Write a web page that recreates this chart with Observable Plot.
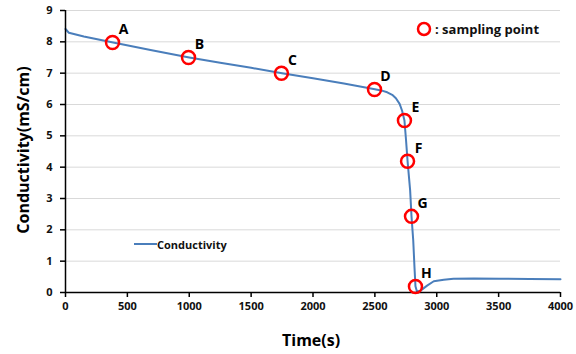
<!DOCTYPE html>
<html>
<head>
<meta charset="utf-8">
<script src="https://cdn.jsdelivr.net/npm/d3@7"></script>
<script src="https://cdn.jsdelivr.net/npm/@observablehq/plot@0.6"></script>
<style>
  html, body { margin: 0; padding: 0; background: #fff; }
  #wrap { position: relative; width: 576px; height: 354px; font-family: "Open Sans", "Liberation Sans", sans-serif; }
  .lg { position: absolute; font-weight: bold; color: #111; white-space: nowrap; }
  .ylab { position: absolute; font-weight: bold; font-size: 16px; color: #000; white-space: nowrap; transform: rotate(-90deg); transform-origin: center; }
</style>
</head>
<body>
<div id="wrap"></div>
<script>
const time = [0, 27, 148, 385, 687, 1000, 1250, 1500, 1750, 2000, 2250, 2500, 2550, 2600, 2640, 2670, 2700, 2720, 2739, 2752, 2764, 2785, 2796, 2810, 2820, 2828, 2840, 2869, 2922, 2976, 3057, 3135, 3300, 3515, 3750, 4000];
const conductivity = [8.41, 8.29, 8.17, 7.98, 7.74, 7.5, 7.33, 7.17, 7.0, 6.84, 6.67, 6.49, 6.45, 6.39, 6.31, 6.2, 6.02, 5.8, 5.49, 4.85, 4.2, 3.26, 2.43, 1.66, 0.81, 0.2, 0.03, 0.06, 0.22, 0.36, 0.41, 0.44, 0.45, 0.44, 0.43, 0.42];

const sampleLabels = ["A", "B", "C", "D", "E", "F", "G", "H"];
const sampleTime = [380, 994, 1745, 2497, 2739, 2764, 2796, 2828];
const sampleValue = [7.98, 7.5, 7.0, 6.48, 5.49, 4.19, 2.43, 0.19];

const xTicks = [0, 500, 1000, 1500, 2000, 2500, 3000, 3500, 4000];
const yTicks = [0, 1, 2, 3, 4, 5, 6, 7, 8, 9];

const series = time.map((t, i) => ({t, v: conductivity[i]}));
const samples = sampleLabels.map((l, i) => ({l, t: sampleTime[i], v: sampleValue[i]}));

const chart = Plot.plot({
  width: 576,
  height: 354,
  marginLeft: 65,
  marginRight: 16,
  marginTop: 10,
  marginBottom: 62,
  style: {fontFamily: '"Open Sans", "Liberation Sans", sans-serif', fontSize: "11px", fontWeight: "bold", color: "#111", background: "#fff"},
  x: {domain: [0, 4000], label: null},
  y: {domain: [0, 9], label: null},
  marks: [
    Plot.gridY(yTicks, {stroke: "#d9d9d9", strokeOpacity: 1, strokeWidth: 1}),
    Plot.axisX({ticks: xTicks, tickFormat: d => String(d), tickSize: 5, tickPadding: 5, label: null, stroke: "#000", strokeWidth: 1.5}),
    Plot.axisY({ticks: yTicks, tickFormat: d => String(d), tickSize: 5, tickPadding: 8, label: null, stroke: "#000", strokeWidth: 1.5}),
    Plot.line(series, {x: "t", y: "v", stroke: "#4a7ebb", strokeWidth: 2}),
    Plot.ruleX([0], {stroke: "#000", strokeWidth: 1.5}),
    Plot.ruleY([0], {stroke: "#000", strokeWidth: 1.5}),
    Plot.dot(samples, {x: "t", y: "v", r: 6.5, stroke: "#ff0000", strokeWidth: 2.5, fill: "none"}),
    Plot.text(samples, {x: "t", y: "v", text: "l", dx: 11, dy: -13, fontSize: 14, fontWeight: "bold", fill: "#000", textAnchor: "middle"})
  ]
});

const wrap = document.getElementById("wrap");
wrap.appendChild(chart);

// Sampling point legend
const lg1 = document.createElement("div");
lg1.className = "lg";
lg1.style.left = "416px";
lg1.style.top = "18px";
lg1.style.fontSize = "13px";
lg1.innerHTML = '<svg width="16" height="16" style="vertical-align:middle"><circle cx="8" cy="8" r="6" fill="none" stroke="#ff0000" stroke-width="2.5"/></svg><span style="vertical-align:middle;margin-left:3px">: sampling point</span>';
wrap.appendChild(lg1);

// Conductivity legend
const lg2 = document.createElement("div");
lg2.className = "lg";
lg2.style.left = "133px";
lg2.style.top = "235px";
lg2.style.fontSize = "11px";
lg2.innerHTML = '<svg width="24" height="16" style="vertical-align:middle"><line x1="1" y1="8" x2="24" y2="8" stroke="#4a7ebb" stroke-width="2"/></svg><span style="vertical-align:middle">Conductivity</span>';
wrap.appendChild(lg2);

// Axis titles
const xl = document.createElement("div");
xl.className = "lg";
xl.style.fontSize = "16px";
xl.style.color = "#000";
xl.textContent = "Time(s)";
wrap.appendChild(xl);
xl.style.left = (311 - xl.offsetWidth / 2) + "px";
xl.style.top = (340 - xl.offsetHeight / 2) + "px";

const yl = document.createElement("div");
yl.className = "ylab";
yl.textContent = "Conductivity(mS/cm)";
wrap.appendChild(yl);
yl.style.left = (22 - yl.offsetWidth / 2) + "px";
yl.style.top = (150 - yl.offsetHeight / 2) + "px";
</script>
</body>
</html>
